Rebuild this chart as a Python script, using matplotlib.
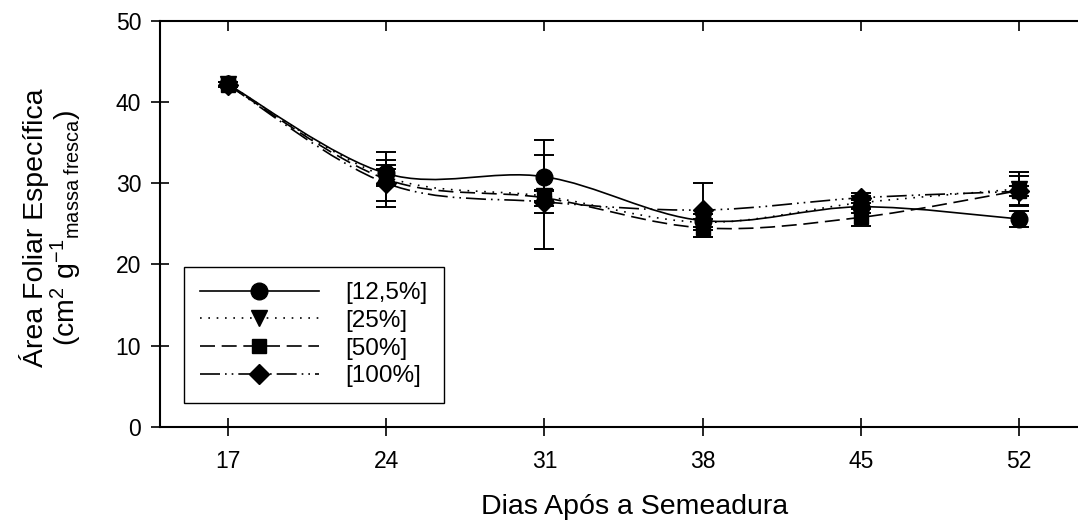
import matplotlib
matplotlib.use('Agg')
import matplotlib.pyplot as plt
from matplotlib.path import Path
from matplotlib.patches import PathPatch
from matplotlib.lines import Line2D
import numpy as np

plt.rcParams['font.family'] = ['Liberation Sans', 'DejaVu Sans']
plt.rcParams['mathtext.fontset'] = 'custom'
plt.rcParams['mathtext.rm'] = 'Liberation Sans'
plt.rcParams['mathtext.it'] = 'Liberation Sans'

days = [17, 24, 31, 38, 45, 52]
labels = ['[12,5%]', '[25%]', '[50%]', '[100%]']

afe_125 = [42.2, 31.2, 30.8, 25.4, 27.1, 25.6]
afe_25 = [42.2, 30.8, 28.4, 25.2, 27.6, 29.3]
afe_50 = [42.1, 30.5, 28.2, 24.5, 25.8, 29.1]
afe_100 = [42.1, 30.0, 27.7, 26.7, 28.2, 29.0]

err_125 = [0.3, 1.6, 4.5, 0.8, 0.8, 1.0]
err_25 = [0.3, 1.0, 0.6, 1.0, 0.8, 2.1]
err_50 = [0.3, 3.4, 1.0, 1.1, 1.1, 1.8]
err_100 = [0.3, 2.2, 5.8, 3.3, 0.6, 0.6]

series = [afe_125, afe_25, afe_50, afe_100]
errors = [err_125, err_25, err_50, err_100]
markers = ['o', 'v', 's', 'D']
msizes = [12, 12, 9.5, 10]
styles = ['-', (0, (1, 4)), (0, (9, 4)), (0, (12, 3, 1, 3, 1, 3))]


def smooth_path(x, y):
    # catmull-rom curve through the points, written as bezier segments
    pts = np.column_stack([x, y]).astype(float)
    n = len(pts)
    verts = [pts[0]]
    codes = [Path.MOVETO]
    for i in range(n - 1):
        p0 = pts[i - 1] if i > 0 else pts[i]
        p1 = pts[i]
        p2 = pts[i + 1]
        p3 = pts[i + 2] if i + 2 < n else pts[i + 1]
        verts += [p1 + (p2 - p0) / 6.0, p2 - (p3 - p1) / 6.0, p2]
        codes += [Path.CURVE4] * 3
    return Path(verts, codes)


fig = plt.figure(figsize=(10.78, 5.27), dpi=100)
ax = fig.add_axes([0.1484, 0.1898, 0.881, 0.7709])

for y, e, m, ms, ls in zip(series, errors, markers, msizes, styles):
    ax.add_patch(PathPatch(smooth_path(days, y), facecolor='none',
                           edgecolor='black', lw=1.2, linestyle=ls, zorder=2))
    ax.errorbar(days, y, yerr=e, fmt='none', ecolor='black', elinewidth=1.4,
                capsize=7, capthick=1.4, zorder=3)
    ax.plot(days, y, linestyle='none', marker=m, markersize=ms,
            color='black', zorder=4)

ax.set_xlim(14, 56)
ax.set_ylim(0, 50)
ax.set_xticks(days)
ax.set_yticks(range(0, 51, 10))
ax.spines['right'].set_visible(False)
for s in ['left', 'bottom', 'top']:
    ax.spines[s].set_linewidth(1.5)
ax.tick_params(axis='both', direction='inout', length=13, width=1.2,
               labelsize=16.5, colors='black')
ax.tick_params(axis='x', pad=10)
ax.tick_params(axis='y', pad=7)

top = ax.secondary_xaxis('top')
top.set_xticks(days)
top.tick_params(direction='in', length=7, width=1.2, labeltop=False)
top.spines['top'].set_visible(False)

ax.set_xlabel('Dias Após a Semeadura', fontsize=20.5, labelpad=15)
ax.set_ylabel('Área Foliar Específica\n(cm$^{2}$ g$^{-1}$$_{\\mathrm{massa\\ fresca}}$)',
              fontsize=20.5, linespacing=1.0)
ax.yaxis.set_label_coords(-0.08, 0.49)

handles = [Line2D([], [], color='black', lw=1.2, linestyle=ls, marker=m,
                  markersize=ms)
           for m, ms, ls in zip(markers, msizes, styles)]
leg = ax.legend(handles, labels, loc='lower left',
                bbox_to_anchor=(0.1707, 0.2353), bbox_transform=fig.transFigure,
                fontsize=17.5, handlelength=4.9, handletextpad=1.1,
                labelspacing=0.23, borderpad=0.65, fancybox=False,
                framealpha=1, edgecolor='black', borderaxespad=0)
leg.get_frame().set_linewidth(1.0)

fig.savefig('out.png', dpi=100)
